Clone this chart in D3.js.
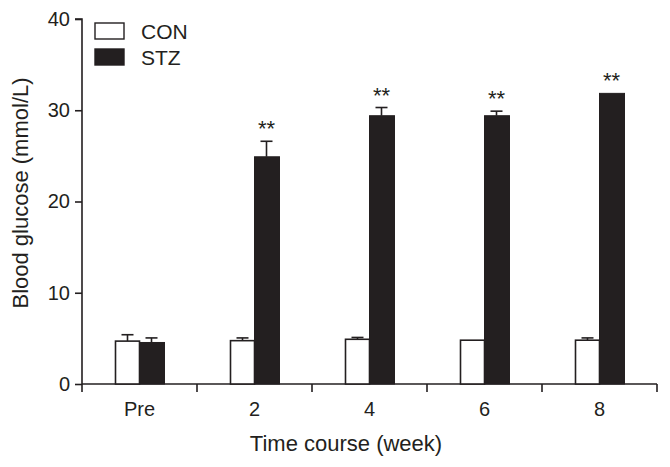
<!DOCTYPE html>
<html><head><meta charset="utf-8">
<script src="https://cdn.jsdelivr.net/npm/d3@7"></script>
<style>body{margin:0;background:#fff}svg{display:block}text{font-family:"Liberation Sans",Arial,sans-serif;fill:#231f20}</style>
</head><body><svg id="c" width="670" height="467"></svg>
<script>
const categories = ["Pre","2","4","6","8"];
const series = ["CON","STZ"];
const conValues = [4.7, 4.75, 4.9, 4.8, 4.8];
const conErrors = [0.7, 0.3, 0.2, 0.0, 0.25];
const stzValues = [4.55, 24.9, 29.4, 29.4, 31.85];
const stzErrors = [0.5, 1.7, 0.9, 0.5, 0.05];
const stzSignif = ["", "**", "**", "**", "**"];
const yTicks = [0, 10, 20, 30, 40];

const ink = "#231f20";
const svg = d3.select("#c");
const m = {l:82, r:13, t:19, b:83};
const W = 670, H = 467;
const x = d3.scaleBand().domain(categories).range([m.l, W - m.r]);
const y = d3.scaleLinear().domain([0, 40]).range([H - m.b, m.t]);
const bw = 24;

// y axis
const ya = svg.append("g").attr("transform", `translate(${m.l},0)`)
  .call(d3.axisLeft(y).tickValues(yTicks).tickSize(7).tickPadding(5));
ya.select(".domain").attr("stroke", ink).attr("stroke-width", 1.6).attr("d", `M-7,${y(40)}H0V${y(0)}`);
ya.selectAll(".tick line").attr("stroke", ink).attr("stroke-width", 1.6);
ya.selectAll(".tick text").attr("font-size", 20).style("fill", ink);

// x axis
const xa = svg.append("g").attr("transform", `translate(0,${y(0)})`)
  .call(d3.axisBottom(x).tickSize(0).tickPadding(18));
xa.select(".domain").attr("stroke", ink).attr("stroke-width", 1.6).attr("d", `M${m.l},0H${W - m.r}`);
xa.selectAll(".tick text").attr("font-size", 20).style("fill", ink);
// boundary ticks
const bounds = categories.map(c => x(c)).concat([x(categories[categories.length-1]) + x.bandwidth()]);
xa.selectAll("line.b").data(bounds).enter().append("line")
  .attr("x1", d => d).attr("x2", d => d).attr("y1", 0).attr("y2", 8)
  .attr("stroke", ink).attr("stroke-width", 1.6);

// bars
const g = svg.append("g");
categories.forEach((c, i) => {
  const cx = x(c) + x.bandwidth()/2;
  [[conValues[i], conErrors[i], cx - bw/2], [stzValues[i], stzErrors[i], cx + bw/2]].forEach(([v, e, ex]) => {
    if (e > 0.08) {
      g.append("line").attr("x1", ex).attr("x2", ex).attr("y1", y(v)).attr("y2", y(v + e)).attr("stroke", ink).attr("stroke-width", 1.6);
      g.append("line").attr("x1", ex - 6).attr("x2", ex + 6).attr("y1", y(v + e)).attr("y2", y(v + e)).attr("stroke", ink).attr("stroke-width", 1.6);
    }
  });
  g.append("rect").attr("x", cx - bw).attr("y", y(conValues[i])).attr("width", bw).attr("height", y(0) - y(conValues[i]))
    .attr("fill", "#fff").attr("stroke", ink).attr("stroke-width", 1.6);
  g.append("rect").attr("x", cx).attr("y", y(stzValues[i])).attr("width", bw + 1).attr("height", y(0) - y(stzValues[i]))
    .attr("fill", ink).attr("stroke", ink).attr("stroke-width", 1);
  if (stzSignif[i]) {
    g.append("text").attr("x", cx + bw/2).attr("y", y(stzValues[i] + stzErrors[i]) - 5)
      .attr("text-anchor", "middle").attr("font-size", 22).text(stzSignif[i]);
  }
});

// legend
const lg = svg.append("g");
series.forEach((s, i) => {
  lg.append("rect").attr("x", 95).attr("y", 23 + i * 26).attr("width", 29).attr("height", 16)
    .attr("fill", i === 0 ? "#fff" : ink).attr("stroke", ink).attr("stroke-width", 1.4);
  lg.append("text").attr("x", 141).attr("y", 38.5 + i * 26).attr("font-size", 21).text(s);
});

// axis titles
svg.append("text").attr("transform", `translate(28,193) rotate(-90)`)
  .attr("text-anchor", "middle").attr("font-size", 22).text("Blood glucose (mmol/L)");
svg.append("text").attr("x", 346).attr("y", 451).attr("text-anchor", "middle")
  .attr("font-size", 22).text("Time course (week)");
</script></body></html>
